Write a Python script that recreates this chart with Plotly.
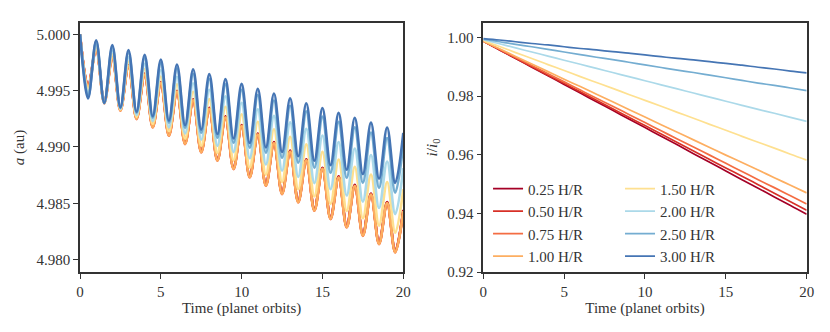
import numpy as np
import plotly.graph_objects as go

# labels and colours (RdYlBu)
labels = ["0.25 H/R", "0.50 H/R", "0.75 H/R", "1.00 H/R",
          "1.50 H/R", "2.00 H/R", "2.50 H/R", "3.00 H/R"]
colors = ["#a50026", "#d73027", "#f46d43", "#fdae61",
          "#fee090", "#abd9e9", "#74add1", "#4575b4"]

# left panel: semi-major axis, sampled at every half orbit (extrema)
t_a = np.linspace(0, 20, 41)
a_025 = [5.0000, 4.99540, 4.99879, 4.99400, 4.99803, 4.99334, 4.99727, 4.99260, 4.99651, 4.99186, 4.99575,
         4.99112, 4.99499, 4.99038, 4.99423, 4.98964, 4.99347, 4.98890, 4.99271, 4.98816, 4.99195,
         4.98742, 4.99119, 4.98668, 4.99043, 4.98594, 4.98967, 4.98520, 4.98891, 4.98446, 4.98815,
         4.98372, 4.98739, 4.98298, 4.98663, 4.98224, 4.98587, 4.98150, 4.98511, 4.98076, 4.98440]
a_050 = [5.0000, 4.99535, 4.99874, 4.99395, 4.99798, 4.99329, 4.99722, 4.99255, 4.99646, 4.99181, 4.99570,
         4.99107, 4.99494, 4.99033, 4.99418, 4.98959, 4.99342, 4.98885, 4.99266, 4.98811, 4.99190,
         4.98737, 4.99114, 4.98663, 4.99038, 4.98589, 4.98962, 4.98515, 4.98886, 4.98441, 4.98810,
         4.98367, 4.98734, 4.98293, 4.98658, 4.98219, 4.98582, 4.98145, 4.98506, 4.98071, 4.98435]
a_075 = [5.0000, 4.99527, 4.99866, 4.99387, 4.99790, 4.99321, 4.99714, 4.99247, 4.99638, 4.99173, 4.99562,
         4.99099, 4.99486, 4.99025, 4.99410, 4.98951, 4.99334, 4.98877, 4.99258, 4.98803, 4.99182,
         4.98729, 4.99106, 4.98655, 4.99030, 4.98581, 4.98954, 4.98507, 4.98878, 4.98433, 4.98802,
         4.98359, 4.98726, 4.98285, 4.98650, 4.98211, 4.98574, 4.98137, 4.98498, 4.98063, 4.98427]
a_100 = [5.0000, 4.99530, 4.99869, 4.99390, 4.99793, 4.99324, 4.99717, 4.99250, 4.99641, 4.99176, 4.99565,
         4.99102, 4.99489, 4.99028, 4.99413, 4.98954, 4.99337, 4.98880, 4.99261, 4.98806, 4.99185,
         4.98732, 4.99109, 4.98658, 4.99033, 4.98584, 4.98957, 4.98510, 4.98881, 4.98436, 4.98805,
         4.98362, 4.98729, 4.98288, 4.98653, 4.98214, 4.98577, 4.98140, 4.98501, 4.98066, 4.98430]
a_150 = [5.0000, 4.99502, 4.99891, 4.99390, 4.99824, 4.99332, 4.99757, 4.99267, 4.99691, 4.99203, 4.99624,
         4.99139, 4.99557, 4.99074, 4.99490, 4.99010, 4.99424, 4.98946, 4.99357, 4.98881, 4.99290,
         4.98817, 4.99223, 4.98753, 4.99157, 4.98688, 4.99090, 4.98624, 4.99023, 4.98560, 4.98956,
         4.98495, 4.98889, 4.98431, 4.98823, 4.98367, 4.98756, 4.98302, 4.98689, 4.98238, 4.98625]
a_200 = [5.0000, 4.99475, 4.99912, 4.99391, 4.99854, 4.99339, 4.99796, 4.99284, 4.99738, 4.99229, 4.99681,
         4.99174, 4.99623, 4.99119, 4.99565, 4.99064, 4.99507, 4.99009, 4.99449, 4.98954, 4.99391,
         4.98899, 4.99333, 4.98844, 4.99276, 4.98789, 4.99218, 4.98734, 4.99160, 4.98679, 4.99102,
         4.98624, 4.99044, 4.98569, 4.98986, 4.98514, 4.98928, 4.98458, 4.98871, 4.98404, 4.98812]
a_250 = [5.0000, 4.99444, 4.99936, 4.99391, 4.99888, 4.99347, 4.99841, 4.99303, 4.99793, 4.99259, 4.99746,
         4.99215, 4.99698, 4.99170, 4.99650, 4.99126, 4.99603, 4.99081, 4.99555, 4.99037, 4.99508,
         4.98993, 4.99460, 4.98949, 4.99412, 4.98904, 4.99365, 4.98860, 4.99317, 4.98815, 4.99269,
         4.98771, 4.99222, 4.98727, 4.99174, 4.98683, 4.99127, 4.98638, 4.99079, 4.98594, 4.99028]
a_300 = [5.0000, 4.99430, 4.99947, 4.99391, 4.99904, 4.99351, 4.99861, 4.99312, 4.99818, 4.99272, 4.99775,
         4.99233, 4.99732, 4.99193, 4.99689, 4.99154, 4.99646, 4.99114, 4.99603, 4.99075, 4.99560,
         4.99035, 4.99517, 4.98996, 4.99474, 4.98956, 4.99431, 4.98917, 4.99388, 4.98877, 4.99345,
         4.98838, 4.99302, 4.98798, 4.99259, 4.98759, 4.99216, 4.98719, 4.99173, 4.98680, 4.99125]

# right panel: inclination ratio, one value per orbit
t_i = np.arange(0, 21)
i_025 = [0.9988, 0.9958, 0.9929, 0.9899, 0.9870, 0.9840, 0.9811, 0.9781, 0.9752, 0.9722, 0.9693,
         0.9663, 0.9634, 0.9604, 0.9575, 0.9545, 0.9515, 0.9486, 0.9456, 0.9427, 0.9397]
i_050 = [0.9988, 0.9959, 0.9930, 0.9901, 0.9872, 0.9844, 0.9815, 0.9786, 0.9757, 0.9728, 0.9700,
         0.9671, 0.9642, 0.9613, 0.9584, 0.9555, 0.9527, 0.9498, 0.9469, 0.9440, 0.9411]
i_075 = [0.9988, 0.9960, 0.9932, 0.9905, 0.9877, 0.9849, 0.9821, 0.9793, 0.9766, 0.9738, 0.9710,
         0.9682, 0.9654, 0.9627, 0.9599, 0.9571, 0.9543, 0.9515, 0.9488, 0.9460, 0.9432]
i_100 = [0.9988, 0.9962, 0.9936, 0.9910, 0.9884, 0.9858, 0.9833, 0.9807, 0.9781, 0.9755, 0.9729,
         0.9703, 0.9677, 0.9651, 0.9625, 0.9599, 0.9574, 0.9548, 0.9522, 0.9496, 0.9470]
i_150 = [0.9990, 0.9970, 0.9949, 0.9929, 0.9908, 0.9888, 0.9867, 0.9847, 0.9827, 0.9806, 0.9786,
         0.9766, 0.9745, 0.9725, 0.9704, 0.9684, 0.9663, 0.9643, 0.9623, 0.9602, 0.9582]
i_200 = [0.9993, 0.9979, 0.9965, 0.9951, 0.9937, 0.9923, 0.9909, 0.9895, 0.9881, 0.9867, 0.9853,
         0.9839, 0.9825, 0.9811, 0.9797, 0.9783, 0.9769, 0.9755, 0.9742, 0.9728, 0.9714]
i_250 = [0.9995, 0.9986, 0.9977, 0.9969, 0.9960, 0.9951, 0.9942, 0.9933, 0.9925, 0.9916, 0.9907,
         0.9898, 0.9889, 0.9881, 0.9872, 0.9863, 0.9854, 0.9845, 0.9837, 0.9828, 0.9819]
i_300 = [0.9997, 0.9992, 0.9986, 0.9980, 0.9975, 0.9969, 0.9963, 0.9958, 0.9952, 0.9947, 0.9941,
         0.9935, 0.9929, 0.9924, 0.9918, 0.9912, 0.9906, 0.9899, 0.9893, 0.9886, 0.9880]

a_series = [a_025, a_050, a_075, a_100, a_150, a_200, a_250, a_300]
i_series = [i_025, i_050, i_075, i_100, i_150, i_200, i_250, i_300]

FONT = "Liberation Serif"
INK = "#333333"

fig = go.Figure()

for k in range(8):
    fig.add_trace(go.Scatter(
        x=t_a, y=a_series[k], mode="lines", line_shape="spline",
        line=dict(color=colors[k], width=2.6), showlegend=False,
        xaxis="x", yaxis="y"))

for k in range(8):
    fig.add_trace(go.Scatter(
        x=t_i, y=i_series[k], mode="lines", line_shape="spline", name=labels[k],
        line=dict(color=colors[k], width=1.7),
        legend="legend" if k < 4 else "legend2",
        xaxis="x2", yaxis="y2"))

axis_style = dict(showgrid=False, zeroline=False, showline=True, mirror=True,
                  automargin=False,
                  linecolor=INK, linewidth=1.5, ticks="outside", ticklen=5,
                  tickwidth=1.2, tickcolor=INK,
                  tickfont=dict(family=FONT, size=15, color=INK))
title_font = dict(family=FONT, size=15, color=INK)

legend_style = dict(font=dict(family=FONT, size=15, color=INK),
                    bgcolor="rgba(0,0,0,0)", yanchor="top", xanchor="left",
                    tracegroupgap=0)

fig.update_layout(
    width=830, height=332,
    margin=dict(l=0, r=0, t=23, b=60),
    paper_bgcolor="white", plot_bgcolor="white",
    xaxis=dict(domain=[0.0964, 0.4859], range=[0, 20], tickvals=[0, 5, 10, 15, 20],
               title=dict(text="Time (planet orbits)", font=title_font, standoff=4),
               **axis_style),
    yaxis=dict(domain=[0, 1], range=[4.9789, 5.0010],
               tickvals=[4.980, 4.985, 4.990, 4.995, 5.000], tickformat=".3f",
               title=dict(text="<i>a</i> (au)", font=title_font, standoff=8),
               **axis_style),
    xaxis2=dict(domain=[0.5823, 0.9719], range=[0, 20], tickvals=[0, 5, 10, 15, 20],
                anchor="y2",
                title=dict(text="Time (planet orbits)", font=title_font, standoff=4),
                **axis_style),
    yaxis2=dict(domain=[0, 1], range=[0.92, 1.005], anchor="x2",
                tickvals=[0.92, 0.94, 0.96, 0.98, 1.00], tickformat=".2f",
                title=dict(text="<i>i</i>/<i>i</i><sub>0</sub>", font=title_font, standoff=6),
                **axis_style),
    legend=dict(x=0.588, y=0.40, **legend_style),
    legend2=dict(x=0.747, y=0.40, **legend_style),
)

# drop the default page margin so the figure sits at the window origin
fig.write_html("out.html", config={"displayModeBar": False},
               post_script="document.body.style.margin = '0';")
